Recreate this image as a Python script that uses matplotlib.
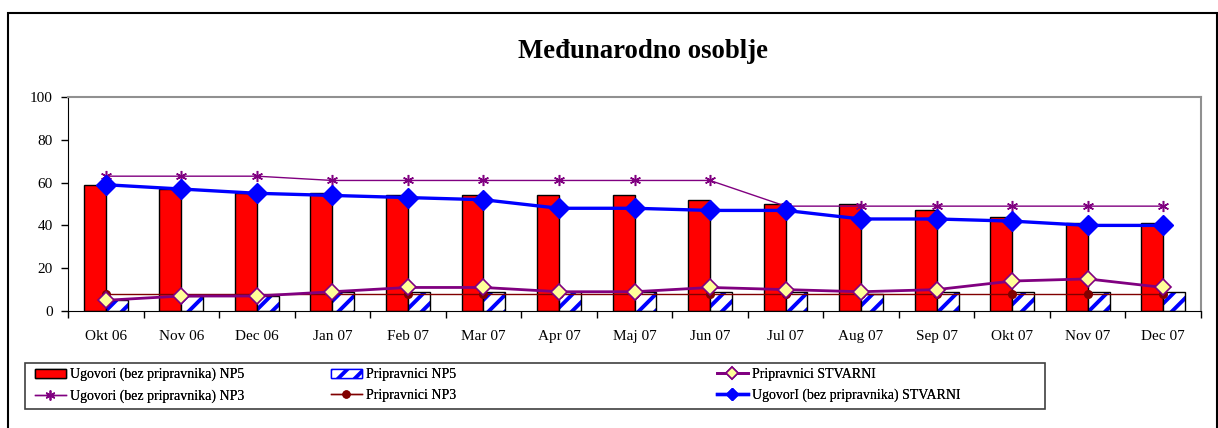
import numpy as np
import matplotlib
matplotlib.use('Agg')
from matplotlib import pyplot as plt
from matplotlib.patches import Rectangle
from matplotlib.lines import Line2D

plt.rcParams['font.family'] = ['Liberation Serif', 'DejaVu Serif']
plt.rcParams['hatch.linewidth'] = 2.8

months = ['Okt 06', 'Nov 06', 'Dec 06', 'Jan 07', 'Feb 07', 'Mar 07', 'Apr 07', 'Maj 07',
          'Jun 07', 'Jul 07', 'Aug 07', 'Sep 07', 'Okt 07', 'Nov 07', 'Dec 07']
ugovori_np5 = [59, 57, 55, 55, 54, 54, 54, 54, 52, 50, 50, 47, 44, 41, 41]
pripravnici_np5 = [5, 7, 7, 9, 9, 9, 9, 9, 9, 9, 8, 9, 9, 9, 9]
ugovori_np3 = [63, 63, 63, 61, 61, 61, 61, 61, 61, 49, 49, 49, 49, 49, 49]
pripravnici_np3 = [8, 8, 8, 8, 8, 8, 8, 8, 8, 8, 8, 8, 8, 8, 8]
pripravnici_stv = [5, 7, 7, 9, 11, 11, 9, 9, 11, 10, 9, 10, 14, 15, 11]
ugovori_stv = [59, 57, 55, 54, 53, 52, 48, 48, 47, 47, 43, 43, 42, 40, 40]

x = np.arange(len(months))
w = 0.29

fig = plt.figure(figsize=(12.18, 4.28), dpi=100)
ax = fig.add_axes([68/1218, 1-311/428, (1201-68)/1218, (311-97)/428])

# bars
ax.bar(x - w/2, ugovori_np5, w, color='#ff0000', edgecolor='black', linewidth=1, zorder=2)
ax.bar(x + w/2, pripravnici_np5, w, color='white', edgecolor='#0000ff', hatch='//', linewidth=0, zorder=2)
ax.bar(x + w/2, pripravnici_np5, w, fill=False, edgecolor='black', linewidth=1, zorder=2)

# lines
ax.plot(x, ugovori_np3, color='#800080', lw=1, marker=(6, 2, 0), ms=8, mew=1.1, zorder=3)
ax.plot(x, pripravnici_np3, color='#800000', lw=1, marker='o', ms=5.5, zorder=3)
ax.plot(x, pripravnici_stv, color='#800080', lw=2, marker='D', ms=8, mfc='#ffff99', mec='#800080', mew=1.2, zorder=4)
ax.plot(x, ugovori_stv, color='#0000ff', lw=2.4, marker='D', ms=10, zorder=5)

ax.set_xlim(-0.5, len(months) - 0.5)
ax.set_ylim(0, 100)
ax.set_yticks(range(0, 101, 20))
ax.set_xticks(x)
ax.set_xticklabels(months)
ax.set_xticks(np.arange(-0.5, len(months), 1), minor=True)
ax.tick_params(axis='x', which='major', length=0, pad=14, labelsize=11)
ax.tick_params(axis='x', which='minor', length=5, direction='out', width=1)
ax.tick_params(axis='y', length=5, direction='out', width=1, pad=6, labelsize=11)
ax.spines['top'].set_color('#909090')
ax.spines['right'].set_color('#909090')
ax.spines['top'].set_linewidth(1.5)
ax.spines['right'].set_linewidth(1.5)

fig.text(643/1218, 1-52/428, 'Međunarodno osoblje', ha='center', va='center',
         fontsize=19.3, fontweight='bold')

# outer frame and legend box
fig.patches.append(Rectangle((8/1218, -0.05), (1217-8)/1218, 1.05-13/428, transform=fig.transFigure,
                             fill=False, edgecolor='black', linewidth=1.5))
fig.patches.append(Rectangle((25/1218, 1-409/428), (1045-25)/1218, (409-363)/428, transform=fig.transFigure,
                             fill=False, edgecolor='#404040', linewidth=1.2))

h_ug5 = Rectangle((0, 0), 1, 1, facecolor='#ff0000', edgecolor='black', linewidth=1)
h_pr5 = Rectangle((0, 0), 1, 1, facecolor='white', edgecolor='#0000ff', hatch='//', linewidth=1)
h_ug3 = Line2D([], [], color='#800080', lw=1, marker=(6, 2, 0), ms=7, mew=1.1)
h_pr3 = Line2D([], [], color='#800000', lw=1, marker='o', ms=5)
h_prs = Line2D([], [], color='#800080', lw=2, marker='D', ms=6, mfc='#ffff99', mec='#800080', mew=1.2)
h_ugs = Line2D([], [], color='#0000ff', lw=2.4, marker='D', ms=6)

cols = [([h_ug5, h_ug3], ['Ugovori (bez pripravnika) NP5', 'Ugovori (bez pripravnika) NP3'], 35),
        ([h_pr5, h_pr3], ['Pripravnici NP5', 'Pripravnici NP3'], 331),
        ([h_prs, h_ugs], ['Pripravnici STVARNI', 'UgovorI (bez pripravnika) STVARNI'], 717)]
for handles, labels, px in cols:
    leg = fig.legend(handles, labels, loc='upper left', bbox_to_anchor=(px/1218, 1-368/428),
                     frameon=False, borderpad=0, borderaxespad=0, handlelength=2.2,
                     handleheight=0.6, handletextpad=0.3, labelspacing=0.55, fontsize=10)
    fig.add_artist(leg)

fig.savefig('out.png', dpi=100)
